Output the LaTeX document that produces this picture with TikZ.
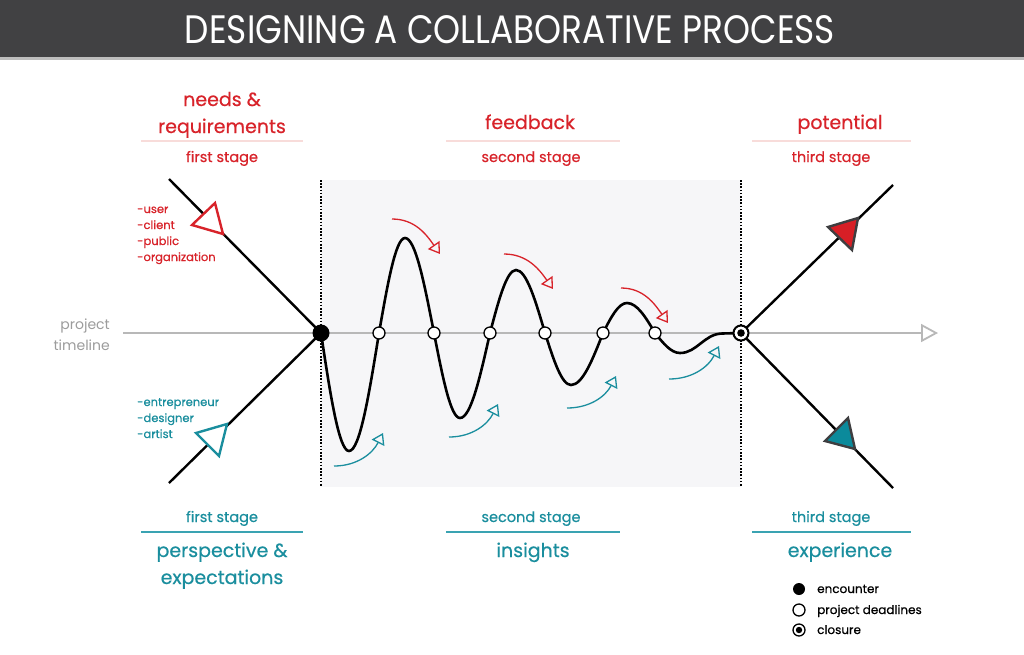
\documentclass[tikz,border=0pt]{standalone}
\usepackage{fontspec}
\setmainfont{Poppins}[FakeBold=0.5]
\newfontfamily\titlefont{Poppins}
\newfontfamily\lightfont{Poppins}
\usetikzlibrary{arrows.meta}
\definecolor{barbg}{HTML}{414143}
\definecolor{barrule}{HTML}{BDBDBD}
\definecolor{accred}{HTML}{D8232A}
\definecolor{accteal}{HTML}{1A8E9E}
\definecolor{fillred}{HTML}{D71F26}
\definecolor{fillteal}{HTML}{0B8A9B}
\definecolor{tridark}{HTML}{3E3E40}
\definecolor{boxbg}{HTML}{F6F6F8}
\definecolor{tlgray}{HTML}{B8B8B8}
\definecolor{tltext}{HTML}{9C9C9C}
\definecolor{pinkrule}{HTML}{F8DCDA}
\definecolor{tealrule}{HTML}{3AA3B2}
\begin{document}
\begin{tikzpicture}[x=1pt,y=1pt,
  hdr/.style={font=\fontsize{19}{19}\selectfont, anchor=base, inner sep=0},
  stg/.style={font=\fontsize{14.5}{14.5}\selectfont, anchor=base, inner sep=0},
  lst/.style={font=\fontsize{11.5}{11.5}\selectfont, anchor=base west, inner sep=0},
  legtxt/.style={font=\fontsize{12}{12}\selectfont, anchor=base west, inner sep=0, black},
  tltxt/.style={font=\lightfont\fontsize{14}{14}\selectfont, anchor=base east, inner sep=0, tltext},
  encdot/.style={circle, fill=black, minimum size=17pt, inner sep=0},
  ddldot/.style={circle, draw=black, fill=white, line width=1.3pt, minimum size=12pt, inner sep=0},
  clodot/.style={circle, draw=black, fill=white, line width=2pt, minimum size=15pt, inner sep=0,
    path picture={\fill[black] (path picture bounding box.center) circle (3.8pt);}},
  legclo/.style={circle, draw=black, fill=white, line width=1.3pt, minimum size=12pt, inner sep=0,
    path picture={\fill[black] (path picture bounding box.center) circle (3.2pt);}},
  blk/.style={black, line width=2.4pt},
  wave/.style={black, line width=2.6pt, line cap=round},
  openred/.style={draw=accred, fill=white, line width=2.4pt, line join=miter},
  openteal/.style={draw=accteal, fill=white, line width=2.4pt, line join=miter},
  solidred/.style={draw=tridark, fill=fillred, line width=2.4pt, line join=miter},
  solidteal/.style={draw=tridark, fill=fillteal, line width=2.4pt, line join=miter},
  redarc/.style={accred, line width=1.3pt, -{Triangle[open, length=11pt, width=14pt, line width=1.3pt]}},
  tealarc/.style={accteal, line width=1.3pt, -{Triangle[open, length=11pt, width=14pt, line width=1.3pt]}},
  toprule/.style={pinkrule, line width=1.2pt},
  botrule/.style={tealrule, line width=1.5pt},
  dotline/.style={black, line width=1.6pt, dash pattern=on 1.6pt off 1.6pt}
]
% canvas and title bar
\path[use as bounding box, fill=white] (0,0) rectangle (1024,-654);
\fill[barbg] (0,0) rectangle (1024,-57);
\fill[barrule] (0,-57) rectangle (1024,-59.5);
\node[white, inner sep=0] (title) at (510,-30)
  {\resizebox{650pt}{28pt}{\titlefont\fontsize{40}{40}\selectfont DESIGNING A COLLABORATIVE PROCESS}};

% anchor points: stage line ends, timeline, encounter, deadlines, closure
\coordinate (ul) at (169,-179);
\coordinate (ll) at (169,-483);
\coordinate (ur) at (893,-185);
\coordinate (lr) at (893,-488);
\coordinate (tl0) at (123,-333);
\coordinate (tl1) at (938,-333);
\coordinate (enc) at (321,-333);
\coordinate (d1) at (379,-333);
\coordinate (d2) at (434,-333);
\coordinate (d3) at (490,-333);
\coordinate (d4) at (545,-333);
\coordinate (d5) at (603,-333);
\coordinate (d6) at (655,-333);
\coordinate (clo) at (741,-333);

% shaded feedback zone with its dotted borders
\fill[boxbg] (321,-180) rectangle (741,-487);
\draw[dotline] (321,-180) -- (321,-487);
\draw[dotline] (741,-180) -- (741,-487);

% project timeline
\draw[tlgray, line width=2.5pt, -{Triangle[open, length=17pt, width=18pt, line width=1.8pt, fill=white]}] (tl0) -- (tl1);

% stage lines
\draw[blk] (ul) -- (enc);
\draw[blk] (ll) -- (enc);
\draw[blk] (clo) -- (ur);
\draw[blk] (clo) -- (lr);

% damped oscillation through the deadlines
\draw[wave] (enc)
  .. controls (330.1,-393.4) and (338.9,-451) .. (349,-451)
  .. controls (359.9,-451) and (369.2,-393.4) .. (d1)
  .. controls (387.5,-284.4) and (395.6,-238) .. (405,-238)
  .. controls (415.5,-238) and (424.5,-284.4) .. (d2)
  .. controls (442.5,-376.5) and (450.6,-418) .. (460,-418)
  .. controls (470.9,-418) and (480.2,-376.5) .. (d3)
  .. controls (498.5,-300.7) and (506.6,-270) .. (516,-270)
  .. controls (526.5,-270) and (535.5,-300.7) .. (d4)
  .. controls (553.5,-359.6) and (561.6,-385) .. (571,-385)
  .. controls (582.6,-385) and (592.6,-359.6) .. (d5)
  .. controls (610.8,-317.6) and (618.3,-303) .. (627,-303)
  .. controls (637.1,-303) and (645.9,-317.6) .. (d6)
  .. controls (663.2,-343.2) and (671,-353) .. (680,-353)
  .. controls (697,-353) and (704,-334) .. (722,-333.5)
  -- (clo);

% direction markers on the stage lines
\draw[openred] (223,-234) -- (215,-203) -- (192,-225) -- cycle;
\draw[openteal] (227,-424) -- (196,-433) -- (219,-456) -- cycle;
\draw[solidred] (858,-218) -- (828,-227) -- (852,-250) -- cycle;
\draw[solidteal] (855,-449) -- (848,-418) -- (825,-441) -- cycle;

% feedback and insight arrows
\draw[redarc] (392,-219) to[out=0, in=125] (440,-254);
\draw[redarc] (504,-254) to[out=0, in=125] (553,-289);
\draw[redarc] (621,-288) to[out=0, in=125] (668,-323);
\draw[tealarc] (334,-466) to[out=0, in=243] (383,-433);
\draw[tealarc] (449,-437) to[out=0, in=243] (498,-404);
\draw[tealarc] (567,-408) to[out=0, in=243] (616,-376);
\draw[tealarc] (669,-379) to[out=0, in=243] (719,-346);

% encounter, deadlines and closure markers
\node[encdot] (encdot) at (enc) {};
\node[ddldot] (dd1) at (d1) {};
\node[ddldot] (dd2) at (d2) {};
\node[ddldot] (dd3) at (d3) {};
\node[ddldot] (dd4) at (d4) {};
\node[ddldot] (dd5) at (d5) {};
\node[ddldot] (dd6) at (d6) {};
\node[clodot] (clodot) at (clo) {};

% timeline label
\node[tltxt] (tlA) at (110,-329) {project};
\node[tltxt] (tlB) at (110,-350) {timeline};

% upper headings
\node[hdr, accred] (h1a) at (222,-106) {needs \&};
\node[hdr, accred] (h1b) at (222,-133) {requirements};
\draw[toprule] (141,-141) -- (303,-141);
\node[stg, accred] (s1) at (222,-162) {first stage};
\node[hdr, accred] (h2) at (530,-129) {feedback};
\draw[toprule] (446,-141) -- (620,-141);
\node[stg, accred] (s2) at (531,-162) {second stage};
\node[hdr, accred] (h3) at (840,-129) {potential};
\draw[toprule] (752,-141) -- (911,-141);
\node[stg, accred] (s3) at (831,-162) {third stage};

% stakeholder lists
\node[lst, accred] (u1) at (137,-213) {-user};
\node[lst, accred] (u2) at (137,-229) {-client};
\node[lst, accred] (u3) at (137,-245) {-public};
\node[lst, accred] (u4) at (137,-261) {-organization};
\node[lst, accteal] (c1) at (137,-406) {-entrepreneur};
\node[lst, accteal] (c2) at (137,-422) {-designer};
\node[lst, accteal] (c3) at (137,-438) {-artist};

% lower headings
\node[stg, accteal] (b1) at (222,-522) {first stage};
\draw[botrule] (141,-532) -- (303,-532);
\node[hdr, accteal] (e1a) at (222,-557) {perspective \&};
\node[hdr, accteal] (e1b) at (222,-584) {expectations};
\node[stg, accteal] (b2) at (531,-522) {second stage};
\draw[botrule] (446,-532) -- (620,-532);
\node[hdr, accteal] (e2) at (533,-557) {insights};
\node[stg, accteal] (b3) at (831,-522) {third stage};
\draw[botrule] (752,-532) -- (911,-532);
\node[hdr, accteal] (e3) at (840,-557) {experience};

% legend
\node[circle, fill=black, minimum size=12pt, inner sep=0] (k1) at (799,-589) {};
\node[ddldot] (k2) at (799,-610) {};
\node[legclo] (k3) at (799,-630) {};
\node[legtxt] (k1t) at (817,-593) {encounter};
\node[legtxt] (k2t) at (817,-614) {project deadlines};
\node[legtxt] (k3t) at (817,-634) {closure};
\end{tikzpicture}
\end{document}
